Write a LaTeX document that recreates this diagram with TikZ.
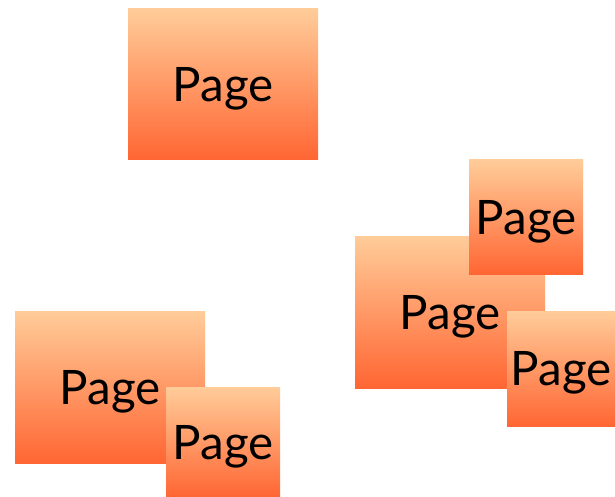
\documentclass[tikz,border=0pt]{standalone}
\usepackage{fontspec}
\setmainfont{Lato}
\definecolor{pagetop}{RGB}{255,204,153}
\definecolor{pagebot}{RGB}{255,102,51}
\tikzset{
  pagebox/.style={rectangle, inner sep=0pt, top color=pagetop, bottom color=pagebot,
    font=\fontsize{47.5}{47.5}\selectfont, text height=34pt, text depth=0pt}
}
\begin{document}
\begin{tikzpicture}[x=1pt,y=-1pt]
\useasboundingbox (0,0) rectangle (615,497);
\node[pagebox, minimum width=190pt, minimum height=151pt] (a) at (223,84.5) {Page};
\node[pagebox, minimum width=190pt, minimum height=152pt] (b) at (450,312) {Page};
\node[pagebox, minimum width=114pt, minimum height=114pt] (c) at (526,217) {Page};
\node[pagebox, minimum width=108pt, minimum height=115pt] (d) at (561,368.5) {Page};
\node[pagebox, minimum width=190pt, minimum height=152pt] (e) at (110,387) {Page};
\node[pagebox, minimum width=114pt, minimum height=110pt] (f) at (223,442) {Page};
\end{tikzpicture}
\end{document}
